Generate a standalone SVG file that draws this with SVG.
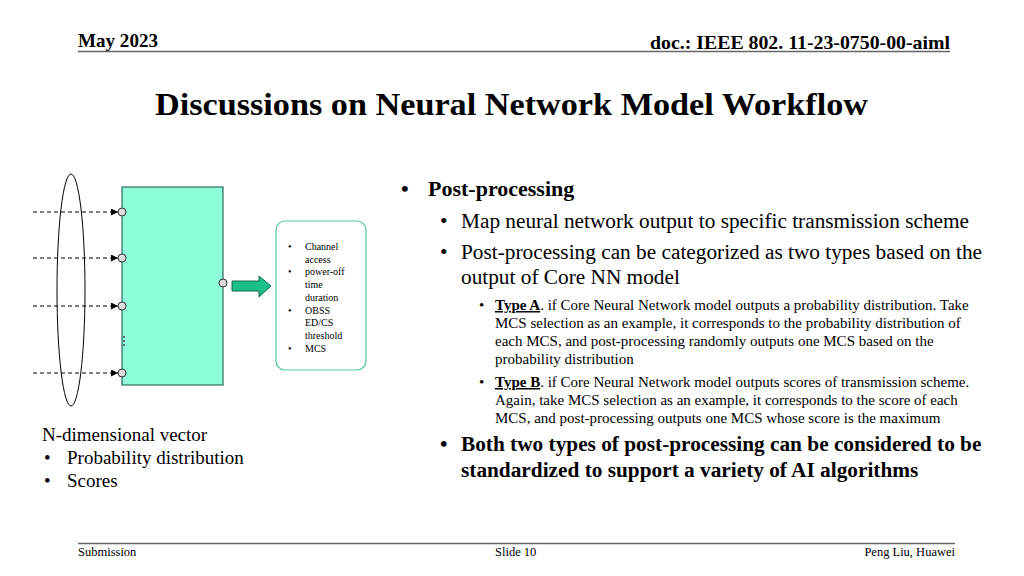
<svg xmlns="http://www.w3.org/2000/svg" width="1024" height="576" viewBox="0 0 1024 576">
<style>
text{font-family:"Liberation Serif","Times New Roman",serif;fill:#000}
.b{font-weight:bold}
.hdr{font-size:19px;font-weight:bold}
.ft{font-size:12.5px}
.l1{font-size:21.3px}
.l2{font-size:15px}
.small{font-size:10px}
.cap{font-size:19px}
.dash{stroke:#000;stroke-width:1;stroke-dasharray:4 3;fill:none}
.port{fill:#dcdcdc;stroke:#333;stroke-width:1}
</style>
<defs>
<marker id="ah" viewBox="0 0 10 10" refX="10" refY="5" markerWidth="7" markerHeight="7" markerUnits="userSpaceOnUse" orient="auto">
<path d="M0,0 L10,5 L0,10 z" fill="#000"/>
</marker>
</defs>
<rect width="1024" height="576" fill="#fff"/>
<g id="header">
<text class="hdr" x="78" y="47" textLength="80" lengthAdjust="spacingAndGlyphs">May 2023</text>
<text class="hdr" x="650" y="49" textLength="300" lengthAdjust="spacingAndGlyphs">doc.: IEEE 802. 11-23-0750-00-aiml</text>
<line x1="78" y1="51.5" x2="950" y2="51.5" stroke="#666" stroke-width="1.5"/>
</g>
<g id="title">
<text class="b" x="155" y="115" font-size="32" textLength="713" lengthAdjust="spacingAndGlyphs">Discussions on Neural Network Model Workflow</text>
</g>
<g id="input-ellipse">
<ellipse cx="71" cy="290" rx="14" ry="116" fill="none" stroke="#000" stroke-width="1"/>
</g>
<g id="connectors">
<line class="dash" x1="33" y1="212" x2="118" y2="212" marker-end="url(#ah)"/>
<line class="dash" x1="33" y1="258" x2="118" y2="258" marker-end="url(#ah)"/>
<line class="dash" x1="33" y1="306" x2="118" y2="306" marker-end="url(#ah)"/>
<line class="dash" x1="33" y1="373" x2="118" y2="373" marker-end="url(#ah)"/>
<path d="M232,281 L259,281 L259,276 L271,286 L259,297 L259,291 L232,291 z" fill="#1ABF8C" stroke="#146B4E" stroke-width="1"/>
</g>
<g id="core-nn">
<rect x="122" y="187" width="101" height="198" fill="#8DFDDA" stroke="#2E6B5A" stroke-width="1.2"/>
<circle class="port" cx="122" cy="212" r="4"/>
<circle class="port" cx="122" cy="258" r="4"/>
<circle class="port" cx="122" cy="306" r="4"/>
<circle class="port" cx="122" cy="373" r="4"/>
<circle class="port" cx="223" cy="283" r="4"/>
<circle cx="124" cy="337" r="0.9" fill="#333"/>
<circle cx="124" cy="341" r="0.9" fill="#333"/>
<circle cx="124" cy="345" r="0.9" fill="#333"/>
</g>
<g id="output-box">
<rect x="276" y="221" width="90" height="149" rx="9" fill="#fff" stroke="#4CC79B" stroke-width="1.2"/>
<g class="small">
<text x="288" y="250">•</text><text x="305" y="250">Channel</text>
<text x="305" y="262.7">access</text>
<text x="288" y="275.4">•</text><text x="305" y="275.4">power-off</text>
<text x="305" y="288.1">time</text>
<text x="305" y="300.8">duration</text>
<text x="288" y="313.5">•</text><text x="305" y="313.5">OBSS</text>
<text x="305" y="326.2">ED/CS</text>
<text x="305" y="338.9">threshold</text>
<text x="288" y="351.6">•</text><text x="305" y="351.6">MCS</text>
</g>
</g>
<g id="left-caption">
<text class="cap" x="42" y="441">N-dimensional vector</text>
<text class="cap" x="44" y="464">•</text><text class="cap" x="67" y="464">Probability distribution</text>
<text class="cap" x="44" y="487">•</text><text class="cap" x="67" y="487">Scores</text>
</g>
<g id="right-text">
<text x="401" y="196" font-size="22" class="b">•</text>
<text x="428" y="196" font-size="22" class="b">Post-processing</text>
<text class="l1" x="440" y="228">•</text>
<text class="l1" x="461" y="228">Map neural network output to specific transmission scheme</text>
<text class="l1" x="440" y="259">•</text>
<text class="l1" x="461" y="259">Post-processing can be categorized as two types based on the</text>
<text class="l1" x="461" y="284">output of Core NN model</text>
<text class="l2" x="479" y="310">•</text>
<text class="l2" x="495" y="310"><tspan font-weight="bold" text-decoration="underline">Type A</tspan>. if Core Neural Network model outputs a probability distribution. Take</text>
<text class="l2" x="495" y="328">MCS selection as an example, it corresponds to the probability distribution of</text>
<text class="l2" x="495" y="346">each MCS, and post-processing randomly outputs one MCS based on the</text>
<text class="l2" x="495" y="364">probability distribution</text>
<text class="l2" x="479" y="387">•</text>
<text class="l2" x="495" y="387"><tspan font-weight="bold" text-decoration="underline">Type B</tspan>. if Core Neural Network model outputs scores of transmission scheme.</text>
<text class="l2" x="495" y="405">Again, take MCS selection as an example, it corresponds to the score of each</text>
<text class="l2" x="495" y="423">MCS, and post-processing outputs one MCS whose score is the maximum</text>
<text class="l1 b" x="440" y="451">•</text>
<text class="l1 b" x="461" y="451">Both two types of post-processing can be considered to be</text>
<text class="l1 b" x="461" y="477">standardized to support a variety of AI algorithms</text>
</g>
<g id="footer">
<line x1="78" y1="543.5" x2="955" y2="543.5" stroke="#666" stroke-width="1.5"/>
<text class="ft" x="78" y="556">Submission</text>
<text class="ft" x="495" y="556">Slide 10</text>
<text class="ft" x="955" y="556" text-anchor="end">Peng Liu, Huawei</text>
</g>
</svg>
